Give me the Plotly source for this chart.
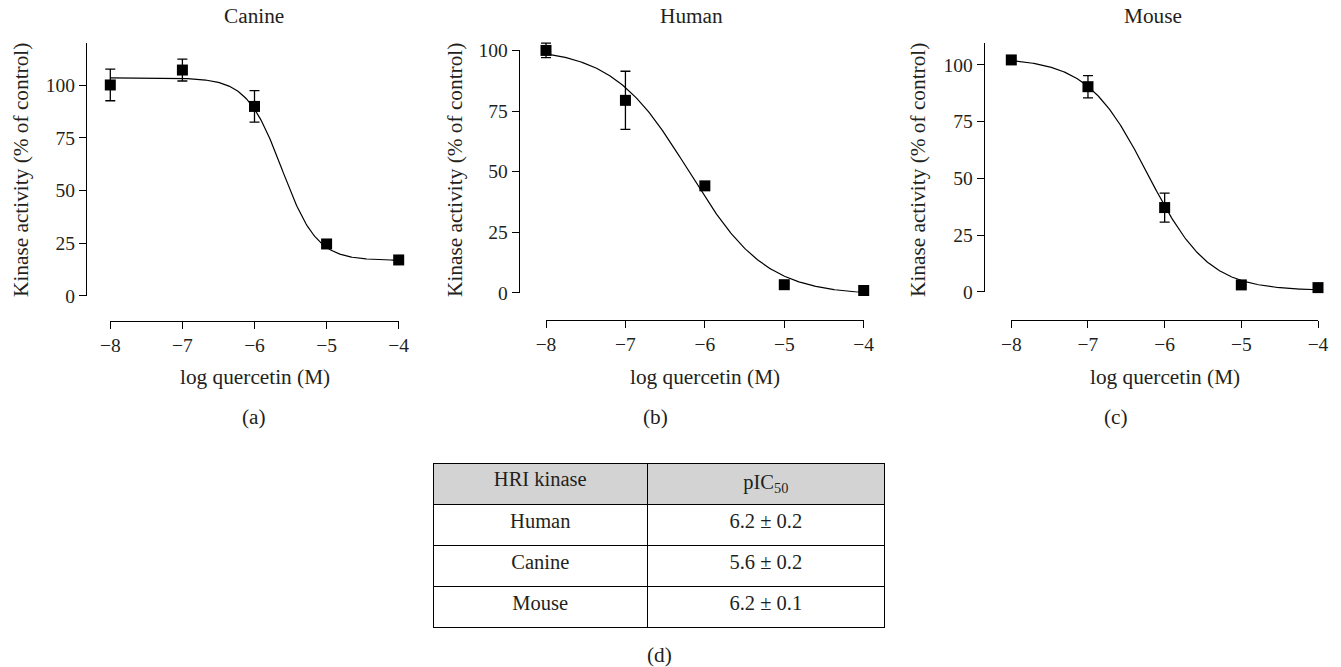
import numpy as np
import plotly.graph_objects as go

W, H = 1341, 667

# ---------------- data ----------------
log_conc = [-8, -7, -6, -5, -4]

canine_y = [100.2, 107.3, 90.0, 24.6, 17.0]
canine_err = [7.5, 5.2, 7.5, 0, 0]
human_y = [100.0, 79.4, 44.1, 3.3, 0.9]
human_err = [3.0, 12.0, 0, 0, 0]
mouse_y = [102.2, 90.4, 37.1, 3.0, 1.8]
mouse_err = [0, 4.9, 6.4, 0, 0]

# fitted sigmoid parameters (top, bottom, logIC50, hill)
canine_fit = (103.6, 16.8, -5.62, 1.8)
human_fit = (101.0, -1.0, -6.2, 0.9)
mouse_fit = (103.0, 0.5, -6.22, 1.1)

panel_titles = ["Canine", "Human", "Mouse"]
panel_labels = ["(a)", "(b)", "(c)"]
x_ticks = [-8, -7, -6, -5, -4]
y_ticks = [0, 25, 50, 75, 100]
y_max = [120.3, 100.3, 109.8]

table_species = ["Human", "Canine", "Mouse"]
table_pic50 = ["6.2 ± 0.2", "5.6 ± 0.2", "6.2 ± 0.1"]
table_header = ["HRI kinase", "pIC<sub>50</sub>"]

# ---------------- layout geometry (screen pixels) ----------------
FONT = "Liberation Serif"
TXT = "#231f20"
FS = 21.3
FS_TICK = 19.5
FS_TAB = 20.5

panels = [
    dict(xl=110.3, xr=398.7, yx=86.0, y0=295.7, yt=42.7, xa=321.0,
         title_x=254, ytitle_x=21, label_x=254),
    dict(xl=546.0, xr=863.7, yx=518.7, y0=292.7, yt=49.7, xa=320.0,
         title_x=692, ytitle_x=455, label_x=655),
    dict(xl=1011.3, xr=1318.0, yx=983.7, y0=291.7, yt=42.7, xa=320.0,
         title_x=1153, ytitle_x=918, label_x=1116),
]

def px(x):
    return x / W

def py(y):
    return 1 - y / H

def sigmoid(x, p):
    top, bottom, logic50, hill = p
    return bottom + (top - bottom) / (1 + 10 ** ((x - logic50) * hill))

fig = go.Figure()

series = [(canine_y, canine_err, canine_fit),
          (human_y, human_err, human_fit),
          (mouse_y, mouse_err, mouse_fit)]

PADPX = 15  # extra room so markers / error caps are not clipped
annotations = []
for i, (ys, errs, fit) in enumerate(series):
    p = panels[i]
    fx = "" if i == 0 else str(i + 1)   # frame axes (visible)
    dxn = str(i + 4)                     # data axes (invisible, padded)
    kx = (p["xr"] - p["xl"]) / 4.0
    ky = (p["y0"] - p["yt"]) / y_max[i]

    xs = np.linspace(-8, -4, 300)
    fig.add_trace(go.Scatter(
        x=xs, y=sigmoid(xs, fit), mode="lines",
        line=dict(color="black", width=1.2),
        xaxis="x" + fx, yaxis="y" + fx, showlegend=False, hoverinfo="skip"))
    fig.add_trace(go.Scatter(
        x=log_conc, y=ys, mode="markers",
        marker=dict(symbol="square", size=11, color="black"),
        error_y=dict(type="data", array=errs, visible=True, color="black",
                     thickness=1.3, width=5),
        xaxis="x" + dxn, yaxis="y" + dxn, showlegend=False, cliponaxis=False))

    axis_common = dict(showgrid=False, zeroline=False, showline=True,
                       linecolor="black", linewidth=1, ticks="outside",
                       ticklen=7, tickwidth=1, tickcolor="black",
                       tickfont=dict(family=FONT, size=FS_TICK, color=TXT),
                       fixedrange=True, automargin=False)
    fig.layout["xaxis" + fx] = dict(
        domain=[px(p["xl"]), px(p["xr"])], range=[-8, -4],
        tickvals=x_ticks, anchor="free", position=py(p["xa"]),
        **axis_common)
    fig.layout["yaxis" + fx] = dict(
        domain=[py(p["y0"]), py(p["yt"])], range=[0, y_max[i]],
        tickvals=y_ticks, anchor="free", position=px(p["yx"]),
        **axis_common)
    # padded invisible data axes with identical scale
    fig.layout["xaxis" + dxn] = dict(
        domain=[px(p["xl"] - PADPX), px(p["xr"] + PADPX)],
        range=[-8 - PADPX / kx, -4 + PADPX / kx],
        anchor="y" + dxn, visible=False, fixedrange=True)
    fig.layout["yaxis" + dxn] = dict(
        domain=[py(p["y0"] + PADPX), py(p["yt"] - PADPX)],
        range=[0 - PADPX / ky, y_max[i] + PADPX / ky],
        anchor="x" + dxn, visible=False, fixedrange=True)

    annotations.append(dict(text=panel_titles[i], x=px(p["title_x"]), y=py(16),
                            xref="paper", yref="paper", showarrow=False,
                            xanchor="center", yanchor="middle",
                            font=dict(family=FONT, size=FS, color=TXT)))
    annotations.append(dict(text="log quercetin (M)", x=px((p["xl"] + p["xr"]) / 2),
                            y=py(377), xref="paper", yref="paper", showarrow=False,
                            xanchor="center", yanchor="middle",
                            font=dict(family=FONT, size=FS, color=TXT)))
    annotations.append(dict(text=panel_labels[i], x=px(p["label_x"]), y=py(417),
                            xref="paper", yref="paper", showarrow=False,
                            xanchor="center", yanchor="middle",
                            font=dict(family=FONT, size=FS, color=TXT)))
    annotations.append(dict(text="Kinase activity (% of control)",
                            x=px(p["ytitle_x"]), y=py(170), textangle=-90,
                            xref="paper", yref="paper", showarrow=False,
                            xanchor="center", yanchor="middle",
                            font=dict(family=FONT, size=FS, color=TXT)))

annotations.append(dict(text="(d)", x=px(659), y=py(655), xref="paper", yref="paper",
                        showarrow=False, xanchor="center", yanchor="middle",
                        font=dict(family=FONT, size=FS, color=TXT)))

# ---------------- table ----------------
fig.add_trace(go.Table(
    domain=dict(x=[px(433), px(885)], y=[py(630), py(463)]),
    columnwidth=[215, 237],
    header=dict(values=table_header, fill_color="#d3d3d3",
                line=dict(color="black", width=1), align="center",
                height=41, font=dict(family=FONT, size=FS_TAB, color=TXT)),
    cells=dict(values=[table_species, table_pic50], fill_color="white",
               line=dict(color="black", width=1), align="center",
               height=41, font=dict(family=FONT, size=FS_TAB, color=TXT)),
))

fig.update_layout(width=W, height=H,
                  margin=dict(l=0, r=0, t=0, b=0, pad=0, autoexpand=False),
                  autosize=False,
                  paper_bgcolor="white", plot_bgcolor="rgba(0,0,0,0)",
                  annotations=annotations, showlegend=False)

fig.write_html("out.html", config={"displayModeBar": False},
               post_script="document.body.style.margin='0';document.body.style.overflow='hidden';")
